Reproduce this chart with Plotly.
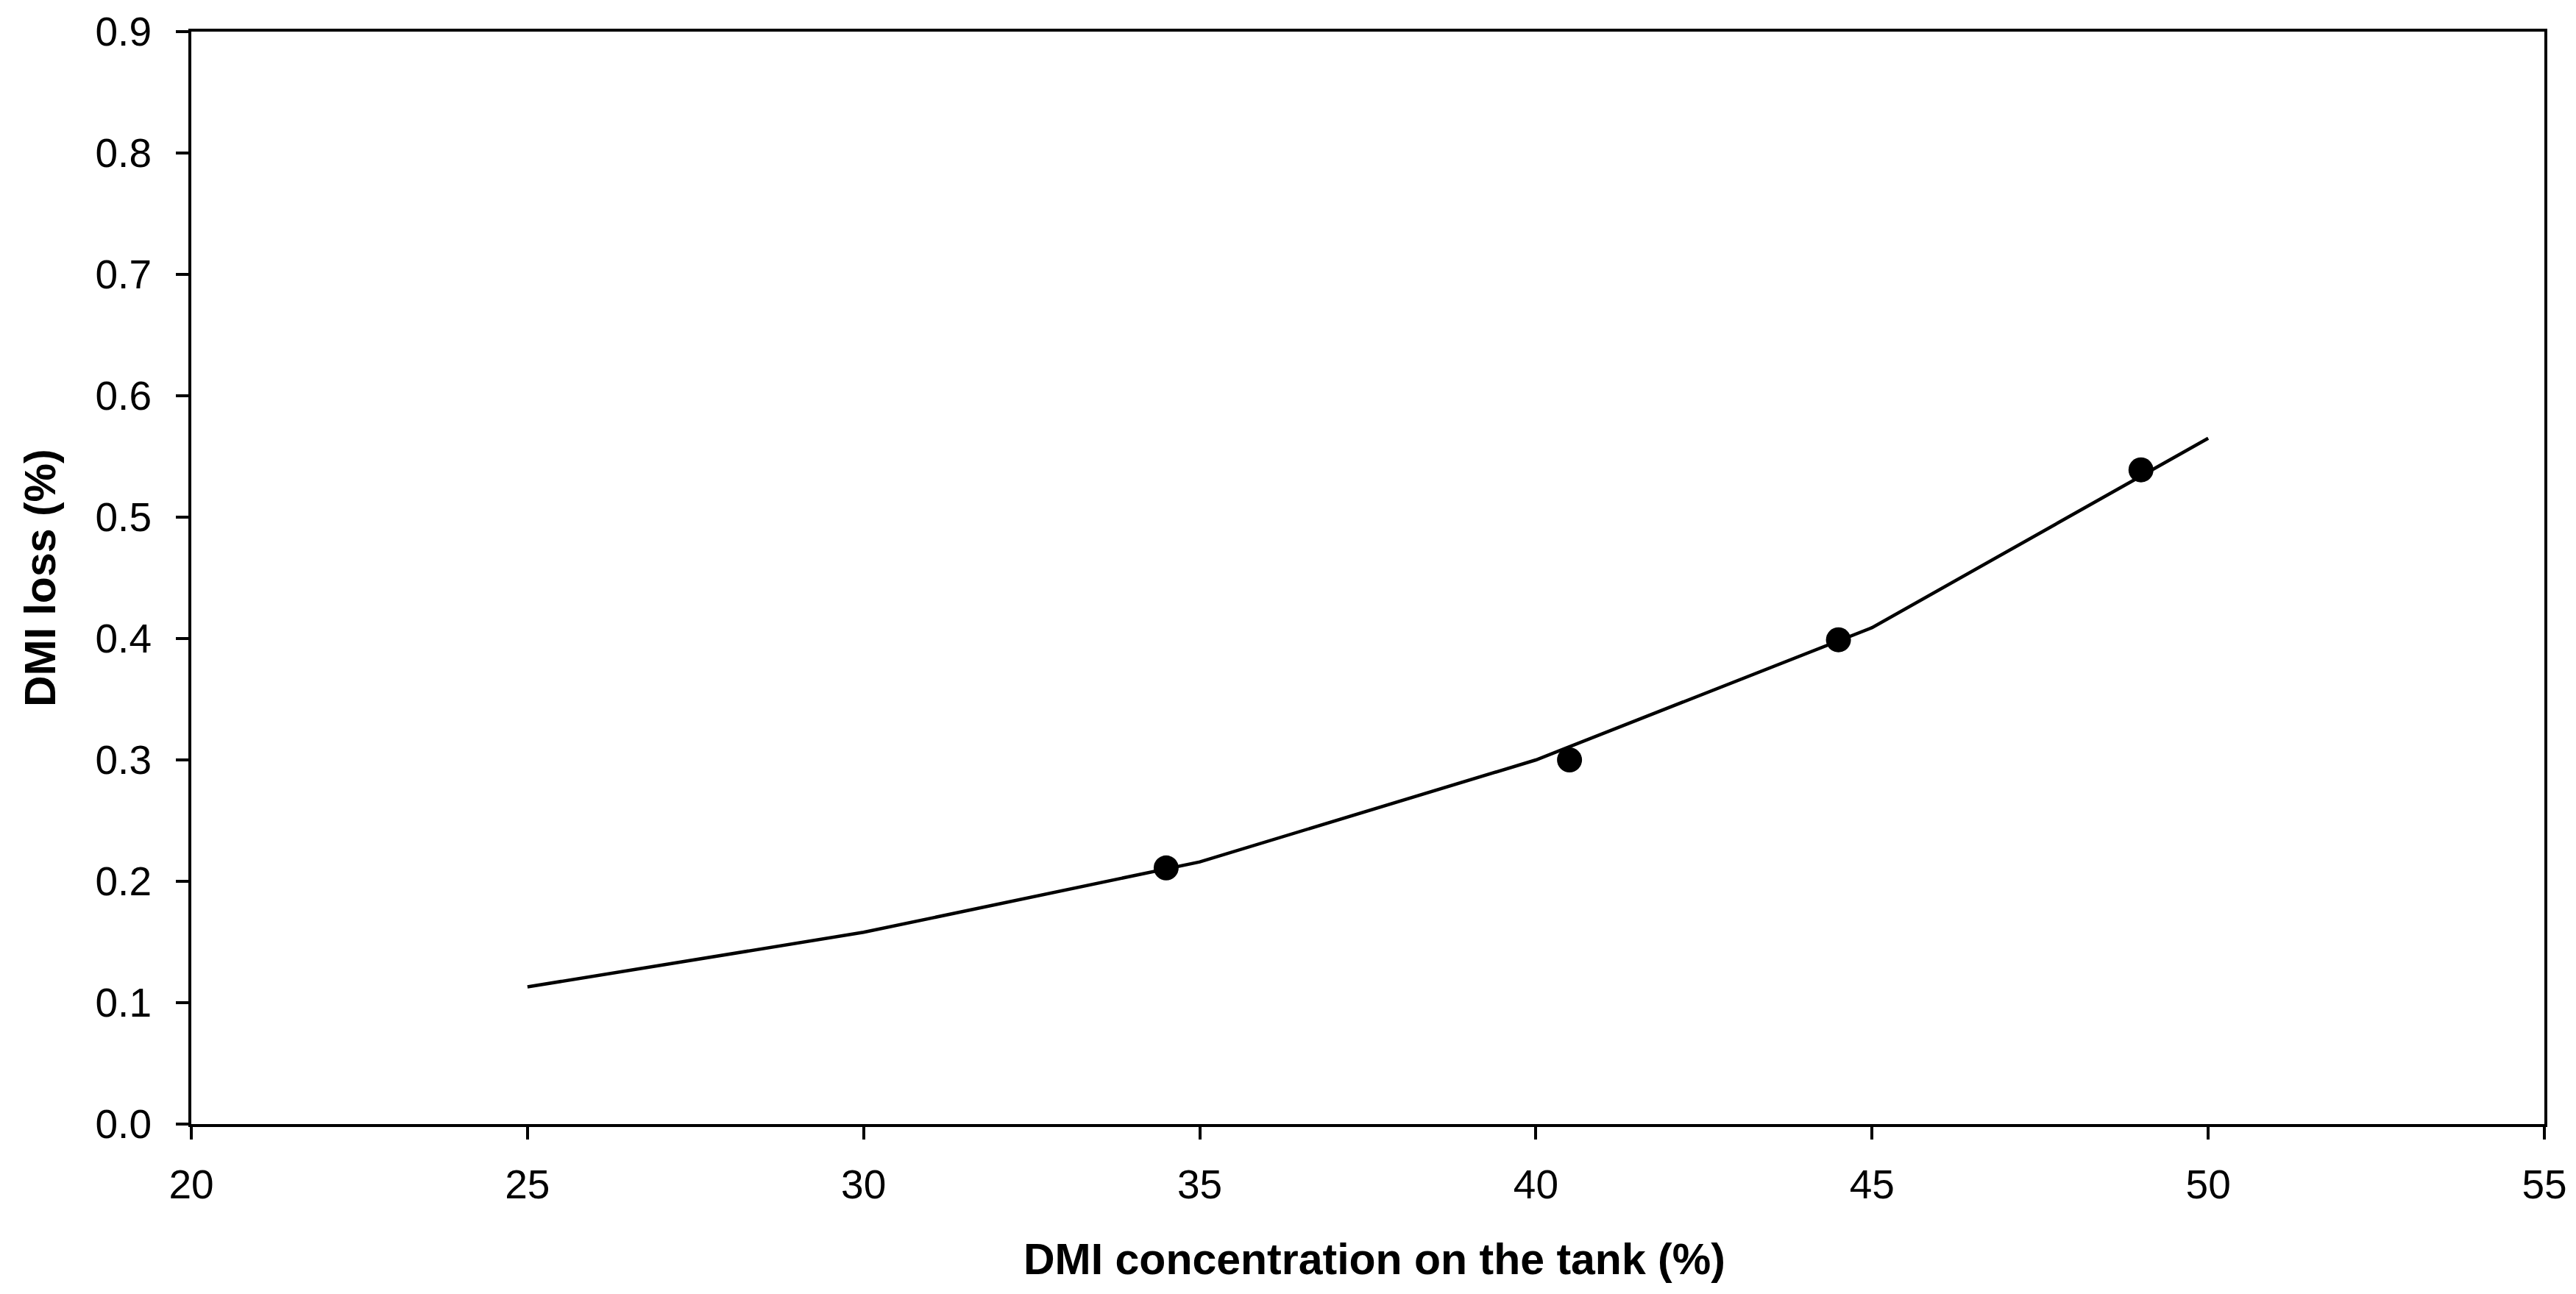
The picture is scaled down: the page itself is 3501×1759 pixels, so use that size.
import plotly.graph_objects as go

# Measured data points
meas_x = [34.5, 40.5, 44.5, 49.0]
meas_y = [0.211, 0.300, 0.399, 0.539]

# Model / fitted line
line_x = [25, 30, 35, 40, 45, 50]
line_y = [0.113, 0.158, 0.216, 0.300, 0.409, 0.565]

x_ticks = [20, 25, 30, 35, 40, 45, 50, 55]
y_ticks = [0.0, 0.1, 0.2, 0.3, 0.4, 0.5, 0.6, 0.7, 0.8, 0.9]

x_title = "DMI concentration on the tank (%)"
y_title = "DMI loss (%)"

W, H = 3501, 1759
ML, MR, MT, MB = 260, 34, 43, 231
PW, PH = W - ML - MR, H - MT - MB

fig = go.Figure()
fig.add_trace(go.Scatter(x=line_x, y=line_y, mode="lines",
                         line=dict(color="black", width=4.5), showlegend=False))
fig.add_trace(go.Scatter(x=meas_x, y=meas_y, mode="markers",
                         marker=dict(color="black", size=34, symbol="circle"),
                         showlegend=False))

font_family = "Liberation Sans, Arial, sans-serif"

fig.update_layout(
    width=W, height=H,
    margin=dict(l=ML, r=MR, t=MT, b=MB, pad=0),
    paper_bgcolor="white", plot_bgcolor="white",
    font=dict(family=font_family, color="black", size=55),
    showlegend=False,
)
fig.update_xaxes(
    range=[20, 55], tickvals=x_ticks, ticktext=[str(v) for v in x_ticks],
    showgrid=False, zeroline=False,
    showline=True, linecolor="black", linewidth=4, mirror=True,
    ticks="outside", ticklen=17, tickwidth=4, tickcolor="black",
    tickfont=dict(size=55, family=font_family, color="black"),
    ticklabelstandoff=14, ticklabeloverflow="allow",
)
fig.update_yaxes(
    range=[0, 0.9], tickvals=y_ticks, ticktext=[f"{v:.1f}" for v in y_ticks],
    showgrid=False, zeroline=False,
    showline=True, linecolor="black", linewidth=4, mirror=True,
    ticks="outside", ticklen=17, tickwidth=4, tickcolor="black",
    tickfont=dict(size=55, family=font_family, color="black"),
    ticklabelstandoff=22, ticklabeloverflow="allow",
)

fig.add_annotation(
    text=f"<b>{x_title}</b>", xref="paper", yref="paper",
    x=(1873 - ML) / PW, y=(PH + MT - 1712) / PH,
    xanchor="center", yanchor="middle", showarrow=False,
    font=dict(size=59, family=font_family, color="black"),
)
fig.add_annotation(
    text=f"<b>{y_title}</b>", xref="paper", yref="paper",
    x=(54 - ML) / PW, y=0.5, textangle=-90,
    xanchor="center", yanchor="middle", showarrow=False,
    font=dict(size=59, family=font_family, color="black"),
)

fig.write_html(
    "out.html",
    config={"displayModeBar": False},
    post_script="document.body.style.margin='0';",
)
